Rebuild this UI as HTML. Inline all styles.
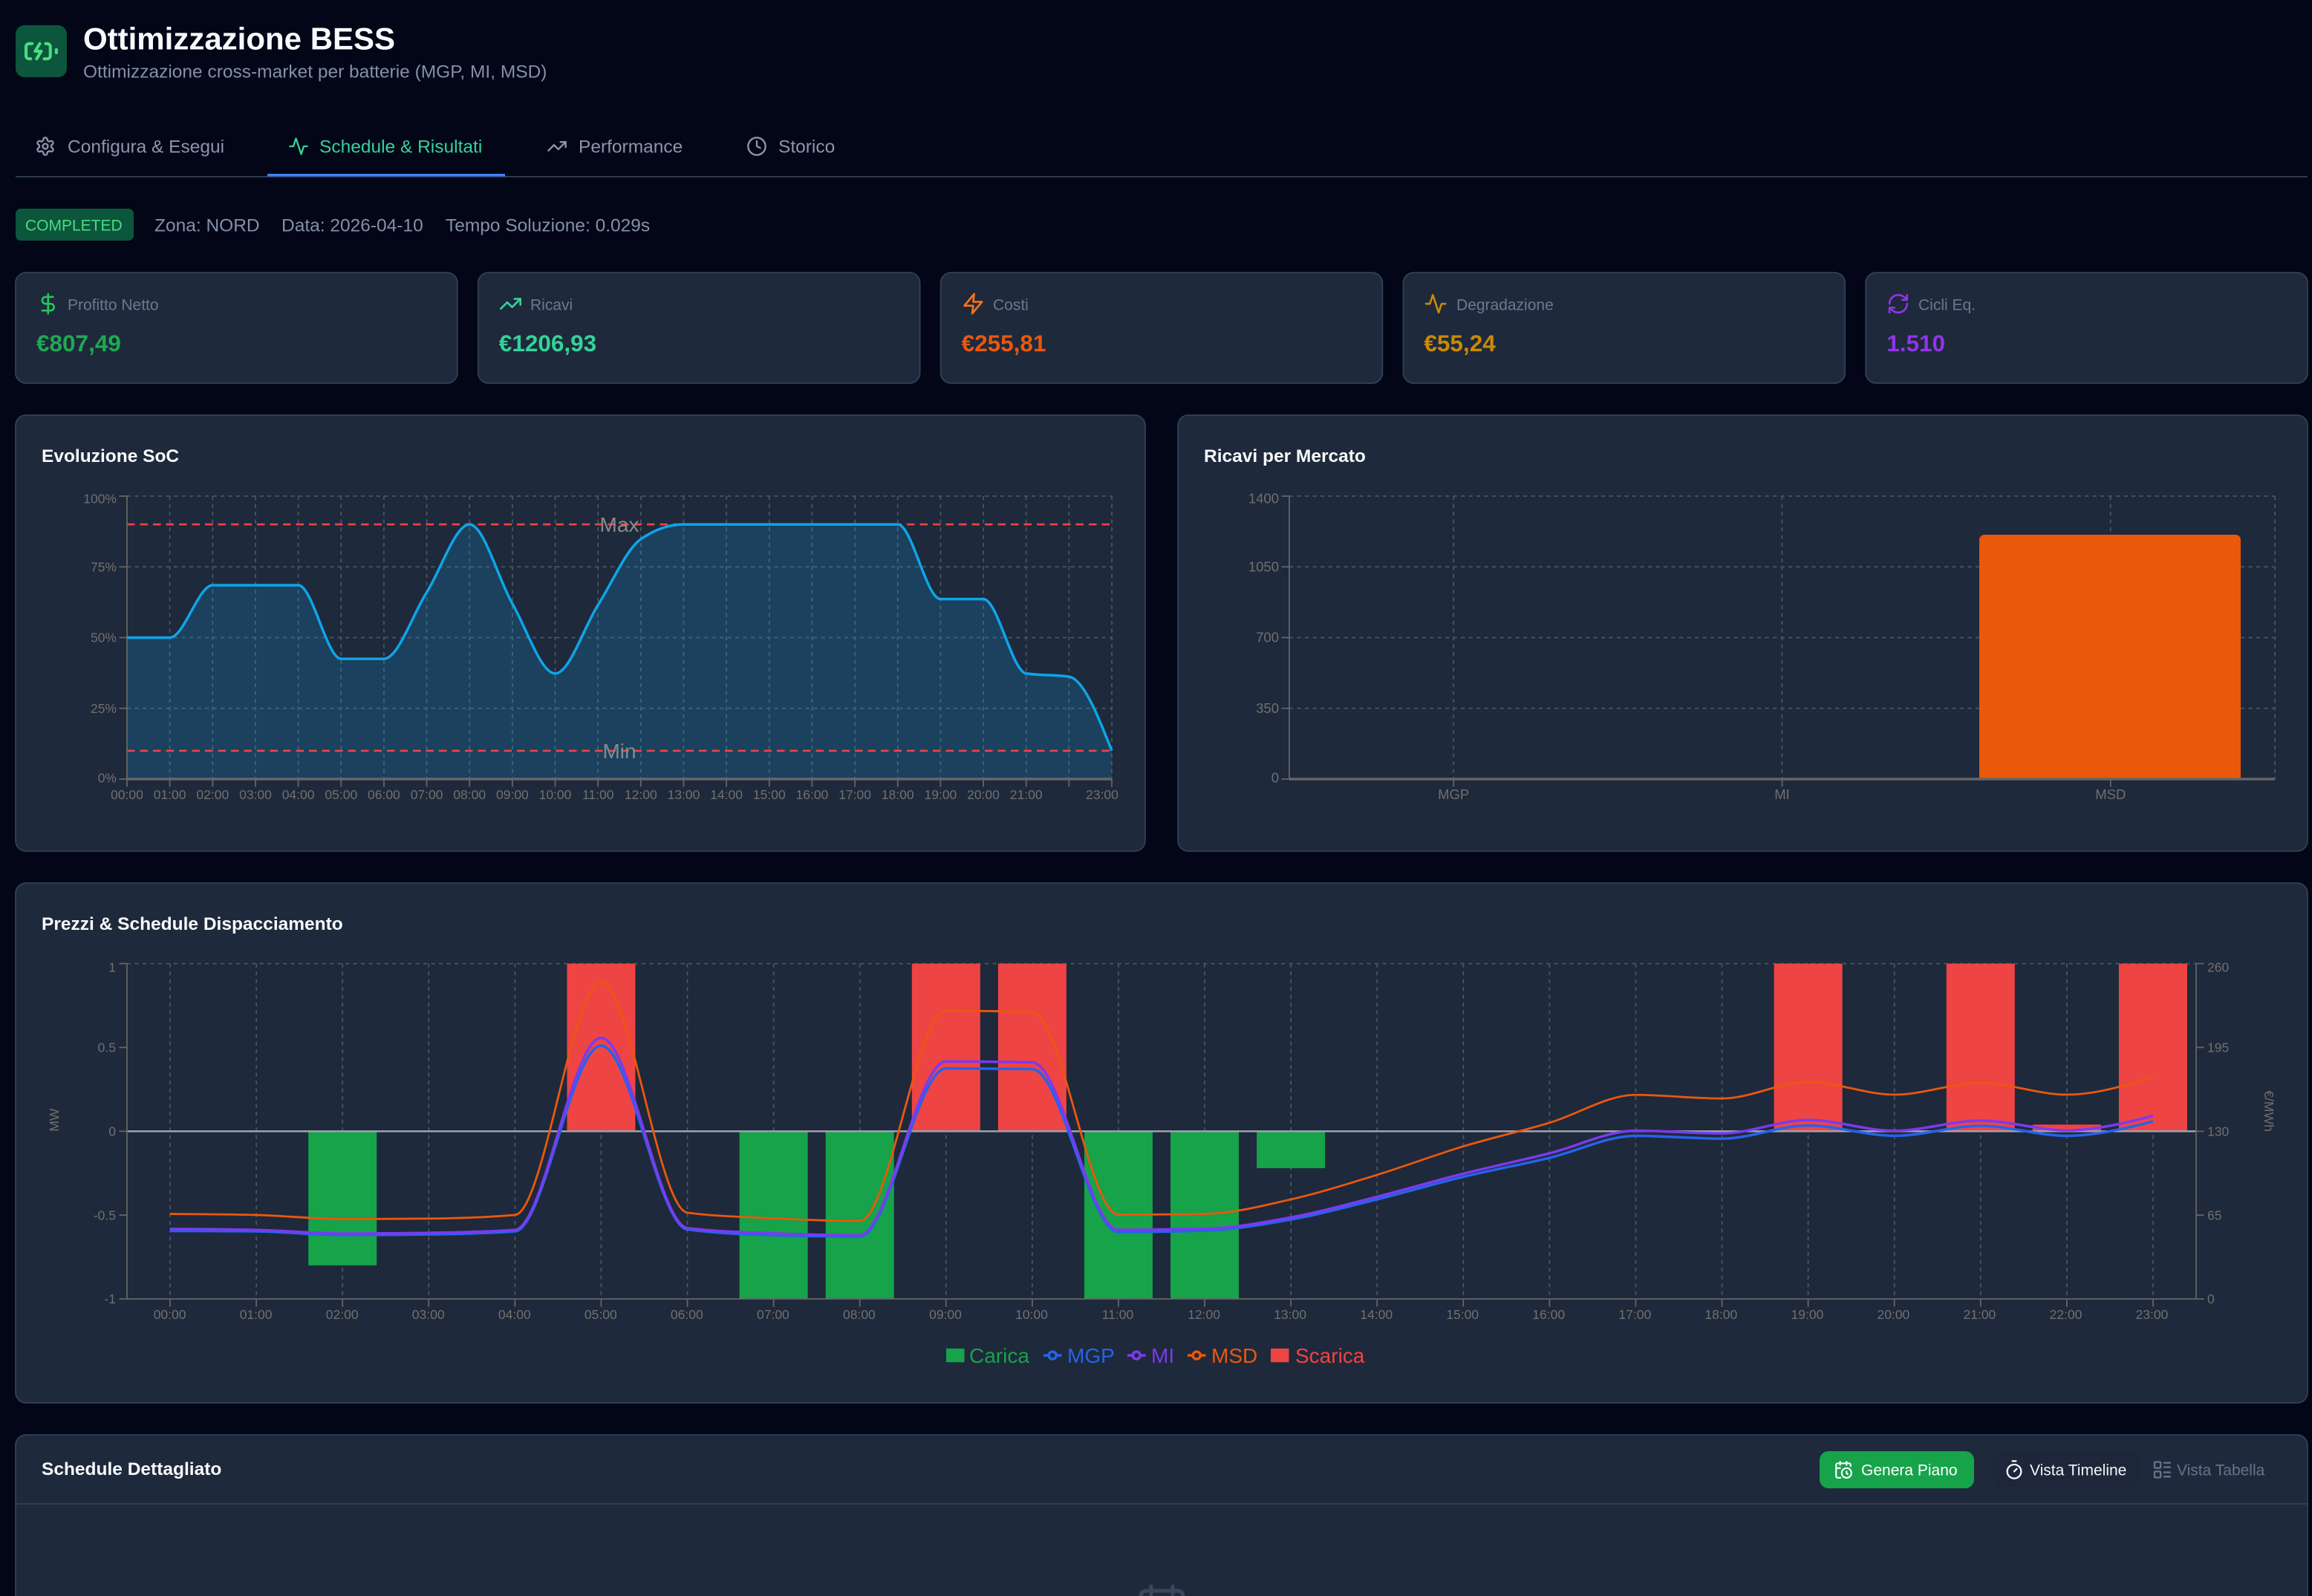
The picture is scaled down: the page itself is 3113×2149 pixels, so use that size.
<!DOCTYPE html>
<html><head><meta charset="utf-8">
<style>
html,body{margin:0;padding:0;background:#020617;width:3113px;height:2149px;overflow:hidden}
svg{display:block}
text{font-family:"Liberation Sans",Arial,sans-serif}
</style></head>
<body>
<svg id="root" width="3113" height="2149" viewBox="0 0 3113 2149" xmlns="http://www.w3.org/2000/svg">
<rect width="3113" height="2149" fill="#020617"/>

<!-- Header -->
<rect x="21" y="34" width="69" height="70" rx="12" fill="#0b563c"/>
<g transform="translate(31,44.5) scale(2.04)" fill="none" stroke="#4ade80" stroke-width="2" stroke-linecap="round" stroke-linejoin="round">
<path d="M15 7h1a2 2 0 0 1 2 2v6a2 2 0 0 1-2 2h-2"/><path d="M6 7H4a2 2 0 0 0-2 2v6a2 2 0 0 0 2 2h1"/><path d="m11 7-3 5h4l-3 5"/><path d="M22 11v2"/>
</g>
<text x="112" y="66.5" font-size="42" font-weight="700" fill="#f8fafc">Ottimizzazione BESS</text>
<text x="112" y="104.5" font-size="24.5" fill="#8391a7">Ottimizzazione cross-market per batterie (MGP, MI, MSD)</text>

<!-- Tabs -->
<g fill="none" stroke-width="2" stroke-linecap="round" stroke-linejoin="round">
<g transform="translate(47,183) scale(1.1667)" stroke="#8c96aa"><path d="M12.22 2h-.44a2 2 0 0 0-2 2v.18a2 2 0 0 1-1 1.730l-.43.25a2 2 0 0 1-2 0l-.15-.08a2 2 0 0 0-2.73.73l-.22.38a2 2 0 0 0 .73 2.73l.15.1a2 2 0 0 1 1 1.72v.51a2 2 0 0 1-1 1.74l-.15.09a2 2 0 0 0-.73 2.73l.22.38a2 2 0 0 0 2.73.73l.15-.08a2 2 0 0 1 2 0l.43.25a2 2 0 0 1 1 1.73V20a2 2 0 0 0 2 2h.44a2 2 0 0 0 2-2v-.18a2 2 0 0 1 1-1.73l.43-.25a2 2 0 0 1 2 0l.15.08a2 2 0 0 0 2.73-.73l.22-.39a2 2 0 0 0-.73-2.73l-.15-.08a2 2 0 0 1-1-1.74v-.5a2 2 0 0 1 1-1.74l.15-.09a2 2 0 0 0 .73-2.730l-.22-.38a2 2 0 0 0-2.73-.73l-.15.08a2 2 0 0 1-2 0l-.43-.25a2 2 0 0 1-1-1.73V4a2 2 0 0 0-2-2z"/><circle cx="12" cy="12" r="3"/></g>
<g transform="translate(388,183) scale(1.1667)" stroke="#34d399"><path d="M22 12h-4l-3 9L9 3l-3 9H2"/></g>
<g transform="translate(736,183) scale(1.1667)" stroke="#8c96aa"><polyline points="22 7 13.5 15.5 8.5 10.5 2 17"/><polyline points="16 7 22 7 22 13"/></g>
<g transform="translate(1005,183) scale(1.1667)" stroke="#8c96aa"><circle cx="12" cy="12" r="10"/><polyline points="12 6 12 12 16 14"/></g>
</g>
<text x="91" y="205.5" font-size="24.5" fill="#8c96aa">Configura &amp; Esegui</text>
<text x="430" y="205.5" font-size="24.5" fill="#34d399">Schedule &amp; Risultati</text>
<text x="779" y="205.5" font-size="24.5" fill="#8c96aa">Performance</text>
<text x="1048" y="205.5" font-size="24.5" fill="#8c96aa">Storico</text>
<rect x="21" y="237" width="3086" height="1.75" fill="#334155"/>
<rect x="360" y="234" width="320" height="3.5" fill="#3b82f6"/>

<!-- Status -->
<rect x="21" y="281" width="159" height="43" rx="7" fill="#0b563c"/>
<text x="34" y="310.5" font-size="21" fill="#4ade80">COMPLETED</text>
<text x="208" y="311.5" font-size="24.5" fill="#8391a7">Zona: NORD</text>
<text x="379" y="311.5" font-size="24.5" fill="#8391a7">Data: 2026-04-10</text>
<text x="600" y="311.5" font-size="24.5" fill="#8391a7">Tempo Soluzione: 0.029s</text>

<!-- KPI cards -->
<g fill="#1e293b" stroke="#334155" stroke-width="1.75">
<rect x="21" y="367" width="594.8" height="149" rx="14"/>
<rect x="643.8" y="367" width="594.8" height="149" rx="14"/>
<rect x="1266.6" y="367" width="594.8" height="149" rx="14"/>
<rect x="1889.4" y="367" width="594.8" height="149" rx="14"/>
<rect x="2512.2" y="367" width="594.8" height="149" rx="14"/>
</g>
<g fill="none" stroke-width="2" stroke-linecap="round" stroke-linejoin="round">
<g transform="translate(49,393.25) scale(1.3125)" stroke="#22c55e"><path d="M12 2v20"/><path d="M17 5H9.5a3.5 3.5 0 0 0 0 7h5a3.5 3.5 0 0 1 0 7H6"/></g>
<g transform="translate(671.8,393.25) scale(1.3125)" stroke="#34d399"><polyline points="22 7 13.5 15.5 8.5 10.5 2 17"/><polyline points="16 7 22 7 22 13"/></g>
<g transform="translate(1294.6,393.25) scale(1.3125)" stroke="#f97316"><path d="M13 2 3 14h9l-1 8 10-12h-9l1-8z"/></g>
<g transform="translate(1917.4,393.25) scale(1.3125)" stroke="#ca8a04"><path d="M22 12h-4l-3 9L9 3l-3 9H2"/></g>
<g transform="translate(2540.2,393.25) scale(1.3125)" stroke="#9333ea"><path d="M3 12a9 9 0 0 1 9-9 9.75 9.75 0 0 1 6.74 2.74L21 8"/><path d="M21 3v5h-5"/><path d="M21 12a9 9 0 0 1-9 9 9.75 9.75 0 0 1-6.74-2.74L3 16"/><path d="M8 16H3v5"/></g>
</g>
<g font-size="21" fill="#6b7890">
<text x="91" y="417.5">Profitto Netto</text>
<text x="714" y="417.5">Ricavi</text>
<text x="1337" y="417.5">Costi</text>
<text x="1961" y="417.5">Degradazione</text>
<text x="2583" y="417.5">Cicli Eq.</text>
</g>
<g font-size="31.5" font-weight="700">
<text x="49" y="473" fill="#1eaa52">€807,49</text>
<text x="671.8" y="473" fill="#34d399">€1206,93</text>
<text x="1294.6" y="473" fill="#ea580c">€255,81</text>
<text x="1917.4" y="473" fill="#ca8a04">€55,24</text>
<text x="2540.2" y="473" fill="#9333ea">1.510</text>
</g>

<!-- Chart cards -->
<g fill="#1e293b" stroke="#334155" stroke-width="1.75">
<rect x="21" y="559" width="1521" height="587" rx="14"/>
<rect x="1586" y="559" width="1521" height="587" rx="14"/>
<rect x="21" y="1189" width="3086" height="700" rx="14"/>
<path d="M21,2149 V1946 a14,14 0 0 1 14,-14 H3093 a14,14 0 0 1 14,14 V2149"/>
</g>
<g font-size="24.5" font-weight="700" fill="#f8fafc">
<text x="56" y="622">Evoluzione SoC</text>
<text x="1621" y="622">Ricavi per Mercato</text>
<text x="56" y="1252">Prezzi &amp; Schedule Dispacciamento</text>
<text x="56" y="1986">Schedule Dettagliato</text>
</g>

<!-- SoC chart graphics -->
<g id="socg"></g>
<g font-size="28" fill="#8a8a8a" text-anchor="middle">
<text x="834" y="716">Max</text>
<text x="834" y="1021">Min</text>
</g>
<g font-size="17.5" fill="#707070" text-anchor="end">
<text x="157" y="677.5">100%</text>
<text x="157" y="769.5">75%</text>
<text x="157" y="864.5">50%</text>
<text x="157" y="960">25%</text>
<text x="157" y="1053.5">0%</text>
</g>
<g font-size="17.5" fill="#707070" text-anchor="middle">
<text x="171" y="1076">00:00</text><text x="228.6" y="1076">01:00</text><text x="286.3" y="1076">02:00</text><text x="344" y="1076">03:00</text><text x="401.6" y="1076">04:00</text><text x="459.3" y="1076">05:00</text><text x="516.9" y="1076">06:00</text><text x="574.6" y="1076">07:00</text><text x="632.2" y="1076">08:00</text><text x="689.9" y="1076">09:00</text><text x="747.5" y="1076">10:00</text><text x="805.2" y="1076">11:00</text><text x="862.8" y="1076">12:00</text><text x="920.5" y="1076">13:00</text><text x="978.1" y="1076">14:00</text><text x="1035.8" y="1076">15:00</text><text x="1093.4" y="1076">16:00</text><text x="1151.1" y="1076">17:00</text><text x="1208.7" y="1076">18:00</text><text x="1266.4" y="1076">19:00</text><text x="1324" y="1076">20:00</text><text x="1381.7" y="1076">21:00</text><text x="1484" y="1076">23:00</text>
</g>

<!-- Ricavi chart -->
<g id="ricg"></g>
<path d="M2665,1049 V727 a7,7 0 0 1 7,-7 H3010 a7,7 0 0 1 7,7 V1049 Z" fill="#ea580c"/>
<line x1="1736" y1="1049" x2="3063" y2="1049" stroke="#666" stroke-width="3.5"/>
<g font-size="18.5" fill="#707070" text-anchor="end">
<text x="1722" y="677.5">1400</text>
<text x="1722" y="769.5">1050</text>
<text x="1722" y="864.5">700</text>
<text x="1722" y="960">350</text>
<text x="1722" y="1053.5">0</text>
</g>
<g font-size="18.5" fill="#707070" text-anchor="middle">
<text x="1957.2" y="1076">MGP</text>
<text x="2399.5" y="1076">MI</text>
<text x="2841.8" y="1076">MSD</text>
</g>

<!-- Prezzi chart -->
<g id="prg"></g>
<g font-size="17.5" fill="#707070" text-anchor="end">
<text x="156" y="1308.5">1</text>
<text x="156" y="1416.5">0.5</text>
<text x="156" y="1529.5">0</text>
<text x="156" y="1642.3">-0.5</text>
<text x="156" y="1755">-1</text>
</g>
<g font-size="17.5" fill="#707070" text-anchor="start">
<text x="2972" y="1308.5">260</text>
<text x="2972" y="1416.5">195</text>
<text x="2972" y="1529.5">130</text>
<text x="2972" y="1642.3">65</text>
<text x="2972" y="1755">0</text>
</g>
<text x="73" y="1508" font-size="17.5" fill="#707070" text-anchor="middle" transform="rotate(-90 73 1508)" dy="6">MW</text>
<text x="3055" y="1496" font-size="17.5" fill="#707070" text-anchor="middle" transform="rotate(90 3055 1496)" dy="6">€/MWh</text>
<g font-size="17.5" fill="#707070" text-anchor="middle">
<text x="228.6" y="1776">00:00</text><text x="344.6" y="1776">01:00</text><text x="460.7" y="1776">02:00</text><text x="576.7" y="1776">03:00</text><text x="692.8" y="1776">04:00</text><text x="808.8" y="1776">05:00</text><text x="924.8" y="1776">06:00</text><text x="1040.9" y="1776">07:00</text><text x="1156.9" y="1776">08:00</text><text x="1273" y="1776">09:00</text><text x="1389" y="1776">10:00</text><text x="1505" y="1776">11:00</text><text x="1621.1" y="1776">12:00</text><text x="1737.1" y="1776">13:00</text><text x="1853.2" y="1776">14:00</text><text x="1969.2" y="1776">15:00</text><text x="2085.2" y="1776">16:00</text><text x="2201.3" y="1776">17:00</text><text x="2317.3" y="1776">18:00</text><text x="2433.4" y="1776">19:00</text><text x="2549.4" y="1776">20:00</text><text x="2665.4" y="1776">21:00</text><text x="2781.5" y="1776">22:00</text><text x="2897.5" y="1776">23:00</text>
</g>

<!-- Legend -->
<rect x="1274" y="1815.8" width="24.5" height="18.4" fill="#16a34a"/>
<text x="1305" y="1835" font-size="28" fill="#16a34a">Carica</text>
<g fill="none" stroke-width="3.5">
<line x1="1405" y1="1825" x2="1429.5" y2="1825" stroke="#2563eb"/><circle cx="1417.2" cy="1825" r="5" stroke="#2563eb" fill="#1e293b"/>
<line x1="1518" y1="1825" x2="1542.5" y2="1825" stroke="#7c3aed"/><circle cx="1530.2" cy="1825" r="5" stroke="#7c3aed" fill="#1e293b"/>
<line x1="1599" y1="1825" x2="1623.5" y2="1825" stroke="#ea580c"/><circle cx="1611.2" cy="1825" r="5" stroke="#ea580c" fill="#1e293b"/>
</g>
<text x="1437" y="1835" font-size="28" fill="#2563eb">MGP</text>
<text x="1550" y="1835" font-size="28" fill="#7c3aed">MI</text>
<text x="1631" y="1835" font-size="28" fill="#ea580c">MSD</text>
<rect x="1711" y="1815.8" width="24.5" height="18.4" fill="#ef4444"/>
<text x="1744" y="1835" font-size="28" fill="#ef4444">Scarica</text>

<!-- Schedule Dettagliato header -->
<rect x="21" y="2024" width="3086" height="1.75" fill="#334155"/>
<rect x="2450" y="1954" width="208" height="50" rx="12" fill="#16a34a"/>
<rect x="2684" y="1955" width="196" height="48" rx="10" fill="#1d2739"/>
<g fill="none" stroke-width="2" stroke-linecap="round" stroke-linejoin="round">
<g transform="translate(2469,1966) scale(1.083)" stroke="#ffffff"><path d="M21 7.5V6a2 2 0 0 0-2-2H5a2 2 0 0 0-2 2v14a2 2 0 0 0 2 2h3.5"/><path d="M16 2v4"/><path d="M8 2v4"/><path d="M3 10h5"/><path d="M17.5 17.5 16 16.3V14"/><circle cx="16" cy="16" r="6"/></g>
<g transform="translate(2698,1965) scale(1.1667)" stroke="#f1f5f9"><line x1="10" x2="14" y1="2" y2="2"/><line x1="12" x2="15" y1="14" y2="11"/><circle cx="12" cy="14" r="8"/></g>
<g transform="translate(2897.5,1965) scale(1.1667)" stroke="#64748b"><rect x="3" y="3" width="7" height="7" rx="1"/><rect x="3" y="14" width="7" height="7" rx="1"/><path d="M14 4h7"/><path d="M14 9h7"/><path d="M14 15h7"/><path d="M14 20h7"/></g>
</g>
<text x="2506" y="1986.5" font-size="21" fill="#ffffff">Genera Piano</text>
<text x="2733" y="1986.5" font-size="21" fill="#f1f5f9">Vista Timeline</text>
<text x="2931" y="1986.5" font-size="21" fill="#64748b">Vista Tabella</text>
<!-- faint calendar icon (clipped at bottom) -->
<g fill="none" stroke="#3a475b" stroke-width="5" stroke-linecap="round">
<path d="M1536,2149 V2149 a7,7 0 0 1 7,-7 H1586 a7,7 0 0 1 7,7"/>
<path d="M1550 2136v11M1579 2136v11"/>
</g>
</svg>

<script>
(function(){
var NS='http://www.w3.org/2000/svg';
function el(p,tag,a){var e=document.createElementNS(NS,tag);for(var k in a)e.setAttribute(k,a[k]);p.appendChild(e);return e;}
function mono(P){
  var n=P.length,t=new Array(n),s=[],i;
  for(i=0;i<n-1;i++)s.push((P[i+1][1]-P[i][1])/(P[i+1][0]-P[i][0]));
  for(i=1;i<n-1;i++){var h0=P[i][0]-P[i-1][0],h1=P[i+1][0]-P[i][0],s0=s[i-1],s1=s[i],p=(s0*h1+s1*h0)/(h0+h1);
    var sg0=s0<0?-1:1,sg1=s1<0?-1:1;t[i]=(sg0+sg1)*Math.min(Math.abs(s0),Math.abs(s1),0.5*Math.abs(p))||0;}
  t[0]=(3*s[0]-t[1])/2;t[n-1]=(3*s[n-2]-t[n-2])/2;
  var d='M'+P[0][0].toFixed(2)+','+P[0][1].toFixed(2);
  for(i=0;i<n-1;i++){var dx=(P[i+1][0]-P[i][0])/3;
    d+='C'+(P[i][0]+dx).toFixed(2)+','+(P[i][1]+dx*t[i]).toFixed(2)+','+(P[i+1][0]-dx).toFixed(2)+','+(P[i+1][1]-dx*t[i+1]).toFixed(2)+','+P[i+1][0].toFixed(2)+','+P[i+1][1].toFixed(2);}
  return d;}
var GRID='#4b5563',AX='#666';
var dash='5.25 5.25';

/* SoC */
var g=document.getElementById('socg');
var L=171,R=1497,T=668,B=1049,step=(R-L)/23;
var i,x;
for(i=0;i<24;i++){x=L+i*step;el(g,'line',{x1:x,y1:T,x2:x,y2:B,stroke:GRID,'stroke-width':1.75,'stroke-dasharray':dash});}
[100,75,50,25].forEach(function(v){var y=B-v*3.81;el(g,'line',{x1:L,y1:y,x2:R,y2:y,stroke:GRID,'stroke-width':1.75,'stroke-dasharray':dash});});
var soc=[50,50,68.5,68.5,68.5,42.5,42.5,66,90,62,37.3,61.5,84.8,90,90,90,90,90,90,63.6,63.6,37.3,36.2,10];
var P=soc.map(function(v,k){return [L+k*step,B-v*3.81];});
var d=mono(P);
el(g,'path',{d:d+'L'+R+','+B+'L'+L+','+B+'Z',fill:'#0ea5e9','fill-opacity':0.2,stroke:'none'});
el(g,'line',{x1:L,y1:B-90*3.81,x2:R,y2:B-90*3.81,stroke:'#ef4444','stroke-width':2.6,'stroke-dasharray':'10.5 7'});
el(g,'line',{x1:L,y1:B-10*3.81,x2:R,y2:B-10*3.81,stroke:'#ef4444','stroke-width':2.6,'stroke-dasharray':'10.5 7'});
el(g,'line',{x1:L,y1:T,x2:L,y2:B,stroke:AX,'stroke-width':1.75});
[100,75,50,25,0].forEach(function(v){var y=B-v*3.81;el(g,'line',{x1:L-10.5,y1:y,x2:L,y2:y,stroke:AX,'stroke-width':1.75});});
for(i=0;i<24;i++){x=L+i*step;el(g,'line',{x1:x,y1:B,x2:x,y2:B+10.5,stroke:AX,'stroke-width':1.75});}
el(g,'line',{x1:L,y1:B,x2:R,y2:B,stroke:AX,'stroke-width':3.5});
el(g,'path',{d:d,fill:'none',stroke:'#0ea5e9','stroke-width':3.5});

/* Ricavi */
g=document.getElementById('ricg');
var RL=1736,RR=3063;
[1400,1050,700,350].forEach(function(v){var y=B-v*381/1400;el(g,'line',{x1:RL,y1:y,x2:RR,y2:y,stroke:GRID,'stroke-width':1.75,'stroke-dasharray':dash});});
[1957.2,2399.5,2841.8,3063].forEach(function(x){el(g,'line',{x1:x,y1:T,x2:x,y2:B,stroke:GRID,'stroke-width':1.75,'stroke-dasharray':dash});});
el(g,'line',{x1:RL,y1:T,x2:RL,y2:B,stroke:AX,'stroke-width':1.75});
[1400,1050,700,350,0].forEach(function(v){var y=B-v*381/1400;el(g,'line',{x1:RL-10.5,y1:y,x2:RL,y2:y,stroke:AX,'stroke-width':1.75});});
[1957.2,2399.5,2841.8].forEach(function(x){el(g,'line',{x1:x,y1:B,x2:x,y2:B+10.5,stroke:AX,'stroke-width':1.75});});

/* Prezzi */
g=document.getElementById('prg');
var PL=171,PR=2957,PT=1297.5,PB=1749,Z=1523.25,band=(PR-PL)/24;
function cx(h){return PL+(h+0.5)*band;}
function ym(v){return Z-v*225.75;}
function yp(p){return PB-p*(PB-PT)/260;}
for(i=0;i<24;i++){x=cx(i);el(g,'line',{x1:x,y1:PT,x2:x,y2:PB,stroke:GRID,'stroke-width':1.75,'stroke-dasharray':dash});}
el(g,'line',{x1:PL,y1:PT,x2:PR,y2:PT,stroke:GRID,'stroke-width':1.75,'stroke-dasharray':dash});
var disp=[0,0,-0.8,0,0,1,0,-1,-1,1,1,-1,-1,-0.22,0,0,0,0,0,1,0,1,0.04,1];
disp.forEach(function(v,h){if(!v)return;var y=ym(v);var bx=cx(h)-46;
  if(v>0)el(g,'rect',{x:bx,y:y,width:92,height:Z-y,fill:'#ef4444'});
  else el(g,'rect',{x:bx,y:Z,width:92,height:y-Z,fill:'#16a34a'});});
el(g,'line',{x1:PL,y1:Z,x2:PR,y2:Z,stroke:'#9ca3af','stroke-width':2.6});
el(g,'line',{x1:PL,y1:PT,x2:PL,y2:PB,stroke:AX,'stroke-width':1.75});
el(g,'line',{x1:PR,y1:PT,x2:PR,y2:PB,stroke:AX,'stroke-width':1.75});
el(g,'line',{x1:PL,y1:PB,x2:PR,y2:PB,stroke:AX,'stroke-width':1.75});
[1,0.5,0,-0.5,-1].forEach(function(v){var y=ym(v);el(g,'line',{x1:PL-10.5,y1:y,x2:PL,y2:y,stroke:AX,'stroke-width':1.75});el(g,'line',{x1:PR,y1:y,x2:PR+10.5,y2:y,stroke:AX,'stroke-width':1.75});});
for(i=0;i<24;i++){x=cx(i);el(g,'line',{x1:x,y1:PB,x2:x,y2:PB+10.5,stroke:AX,'stroke-width':1.75});}
var mgp=[52.7,52.4,49.5,50,52.4,196.4,53.9,49.4,48.4,178.7,178.2,51.8,53,61.6,77.2,94.7,109.4,126.5,124.3,134.5,126.5,134.2,126.5,137.6];
var mi=[54.3,53.5,50.7,51.2,53.5,202.4,54.9,50.8,49.4,184.1,183.5,53.6,54.4,63.2,79.2,97.1,112.9,130.4,128.4,138.7,130.4,138.2,130.7,142];
var msd=[65.9,65.1,62,62.3,65.1,245.6,66.9,62.5,60.5,223.4,222.6,65.3,65.9,77.2,96.2,118.3,136.6,158.2,155.4,168.2,158.4,167.5,158.4,172.2];
[[mgp,'#2563eb',3.5],[mi,'#7c3aed',3.5],[msd,'#ea580c',2.8]].forEach(function(s){
  var pts=s[0].map(function(p,h){return [cx(h),yp(p)];});
  el(g,'path',{d:mono(pts),fill:'none',stroke:s[1],'stroke-width':s[2]});});
})();
</script>
</body></html>
